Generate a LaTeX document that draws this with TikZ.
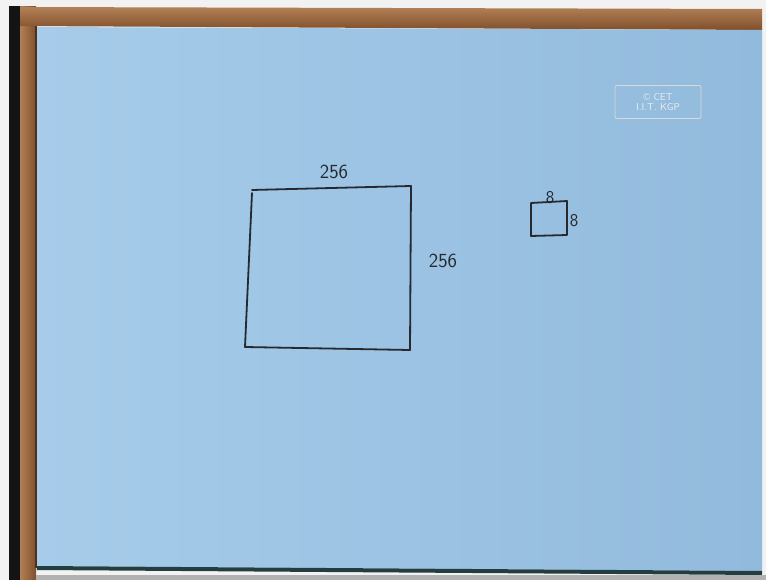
\documentclass[tikz,border=0pt]{standalone}
\usetikzlibrary{positioning}

\definecolor{paperL}{RGB}{166,204,234}
\definecolor{paperR}{RGB}{146,186,220}
\definecolor{woodD}{RGB}{128,80,44}
\definecolor{woodL}{RGB}{178,128,86}
\definecolor{inkc}{RGB}{38,42,48}
\definecolor{edge}{RGB}{34,62,64}

\begin{document}
\begin{tikzpicture}[x=1pt,y=-1pt,
  ink/.style={draw=inkc,line width=1.8pt,line cap=round,line join=round},
  hand/.style={inner sep=0pt,text=inkc,font=\sffamily\fontsize{20}{20}\selectfont},
  smallhand/.style={inner sep=0pt,text=inkc,font=\sffamily\fontsize{18}{18}\selectfont}]
\useasboundingbox (0,0) rectangle (766,580);
% board and frame
\fill[black!5] (0,0) rectangle (766,580);
\fill[black!92] (9,6) rectangle (20,580);
\shade[left color=woodL,right color=woodD] (20,7) rectangle (36,580);
\shade[top color=woodL,bottom color=woodD] (20,7) -- (762,9) -- (762,30) -- (20,26) -- cycle;
\fill[black!30] (36,575) rectangle (766,580);
\shade[left color=paperL,right color=paperR] (37,27) -- (762,30) -- (762,571) -- (37,566) -- cycle;
\draw[woodD!60!black,line width=1.2pt] (36,26) -- (36,568);
\draw[edge,line width=4pt] (37,568) -- (762,573);
% logo
\node[draw=white!70!gray,line width=.8pt,rounded corners=2pt,minimum width=86,minimum height=33,
  align=center,text=white!85!gray,font=\sffamily\fontsize{10}{10.5}\selectfont] (logo) at (658,102) {\textcopyright\ CET\\I.I.T. KGP};
% large block
\coordinate (bigTL) at (252,190);
\coordinate (bigTR) at (411,186);
\coordinate (bigBR) at (410,350);
\coordinate (bigBL) at (245,347);
\draw[ink] (bigTL) -- (bigTR) -- (bigBR);
\draw[ink] (bigBL) -- (bigBR);
\draw[ink] ([yshift=-3]bigTL) -- (bigBL);
\node[hand] (bigTop) at (334,172) {256};
\node[hand] (bigSide) at (443,261) {256};
% small block
\coordinate (smTL) at (531,203);
\coordinate (smTR) at (567,201);
\coordinate (smBR) at (567,235);
\coordinate (smBL) at (531,236);
\draw[ink] (smTL) -- (smTR) -- (smBR) -- (smBL) -- cycle;
\node[smallhand] (smTop) at (550,198) {8};
\node[smallhand] (smSide) at (574,221) {8};
\end{tikzpicture}
\end{document}
